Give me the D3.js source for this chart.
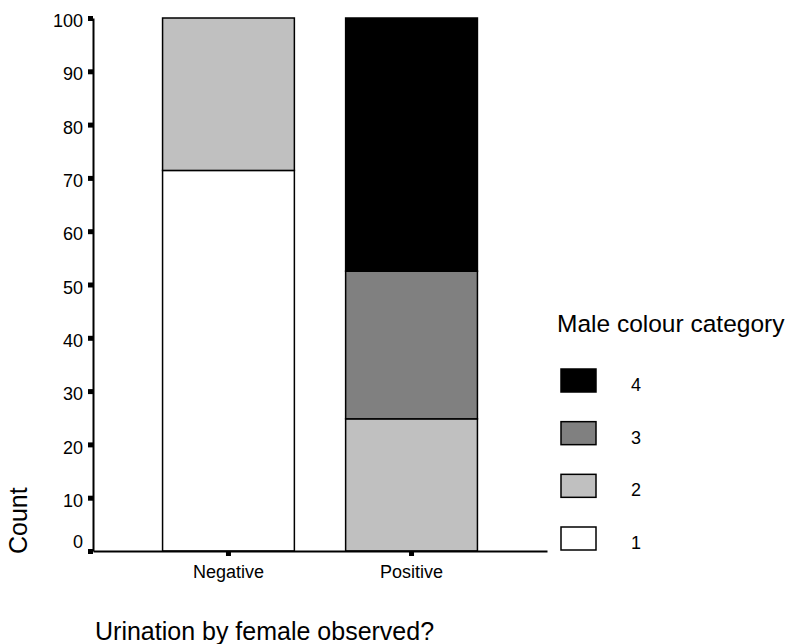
<!DOCTYPE html>
<html>
<head>
<meta charset="utf-8">
<script src="https://cdn.jsdelivr.net/npm/d3@7"></script>
<style>
    body { margin: 0; background: white; }
    text { font-family: "Liberation Sans", Arial, sans-serif; fill: black; }
</style>
</head>
<body>
<svg id="svg"></svg>
<script>
'use strict';

// ================================= data ======================================
var categories = ["Negative", "Positive"];
var colourKeys = ["1", "2", "3", "4"];
// percentage of males per colour category, per category of the x axis
var cat1 = [71.4, 0];
var cat2 = [28.6, 24.8];
var cat3 = [0, 27.7];
var cat4 = [0, 47.5];
var yTicks = [0, 10, 20, 30, 40, 50, 60, 70, 80, 90, 100];

var colourMap = {
    "1": "#ffffff",
    "2": "#c0c0c0",
    "3": "#808080",
    "4": "#000000"
};

var rows = categories.map((c, i) => {
    return { cat: c, "1": cat1[i], "2": cat2[i], "3": cat3[i], "4": cat4[i] }
});
var stacked = d3.stack().keys(colourKeys)(rows);

// ================================= scales ======================================
var width = 787;
var height = 644;

var svg = d3.select("#svg")
    .attr("width", width)
    .attr("height", height);

var x = d3.scaleBand()
    .domain(categories)
    .range([93, 547])
    .paddingInner(0.28)
    .paddingOuter(0.38);

var y = d3.scaleLinear()
    .domain([0, 100])
    .range([551, 18]);

// ================================= bars ======================================
svg.append("g")
    .selectAll("g")
    .data(stacked)
    .join("g")
    .attr("fill", d => colourMap[d.key])
    .selectAll("rect")
    .data(d => d.filter(s => s[1] - s[0] > 0))
    .join("rect")
    .attr("x", d => x(d.data.cat))
    .attr("width", x.bandwidth())
    .attr("y", d => y(d[1]))
    .attr("height", d => y(d[0]) - y(d[1]))
    .attr("stroke", "black")
    .attr("stroke-width", 1.5);

// ================================= axes ======================================
var yAxis = svg.append("g")
    .attr("transform", "translate(93,0)")
    .call(d3.axisLeft(y).tickValues(yTicks).tickSize(5).tickSizeOuter(0).tickPadding(5));
yAxis.select(".domain").attr("stroke-width", 2);
yAxis.selectAll(".tick line").attr("stroke-width", 5);
yAxis.selectAll(".tick text")
    .attr("font-size", 18)
    .attr("font-family", null)
    .attr("dy", "0.48em");
yAxis.selectAll(".tick text").filter(d => d === 0).attr("dy", "-0.18em");

var xAxis = svg.append("g")
    .attr("transform", "translate(0,551)")
    .call(d3.axisBottom(x).tickSize(5).tickSizeOuter(0).tickPadding(9));
xAxis.select(".domain").attr("stroke-width", 2);
xAxis.selectAll(".tick line").attr("stroke-width", 5);
xAxis.selectAll(".tick text")
    .attr("font-size", 18)
    .attr("font-family", null);

svg.append("text")
    .attr("x", 95)
    .attr("y", 640)
    .attr("font-size", 25)
    .text("Urination by female observed?");

svg.append("text")
    .attr("transform", "translate(27,554) rotate(-90)")
    .attr("font-size", 25)
    .text("Count");

// ================================= legend ======================================
svg.append("text")
    .attr("x", 557)
    .attr("y", 332)
    .attr("font-size", 24.5)
    .text("Male colour category");

var legendKeys = colourKeys.slice().reverse();
var ly = d3.scalePoint()
    .domain(legendKeys)
    .range([369, 527]);

var legend = svg.append("g")
    .selectAll("g")
    .data(legendKeys)
    .join("g")
    .attr("transform", d => "translate(0," + ly(d) + ")");

legend.append("rect")
    .attr("x", 561)
    .attr("width", 35)
    .attr("height", 23)
    .attr("fill", d => colourMap[d])
    .attr("stroke", "black")
    .attr("stroke-width", 1.5);

legend.append("text")
    .attr("x", 631)
    .attr("y", 22)
    .attr("font-size", 18)
    .text(d => d);
</script>
</body>
</html>
